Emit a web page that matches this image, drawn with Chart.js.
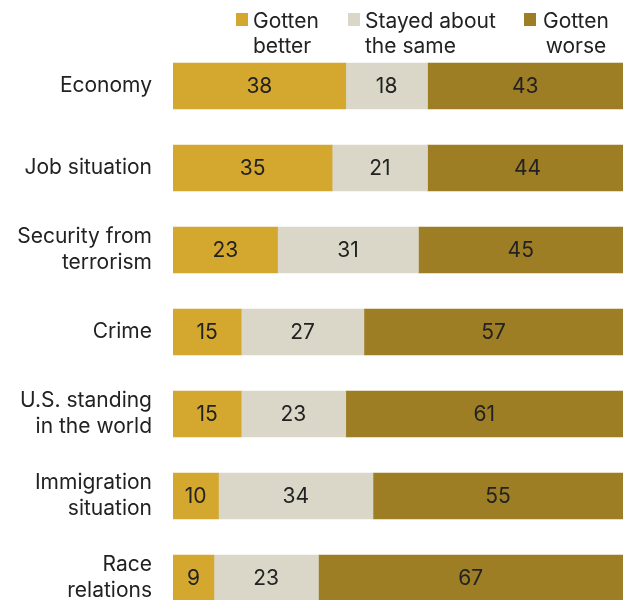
<!DOCTYPE html>
<html lang="en">
<head>
<meta charset="UTF-8" />
<title>Views of change</title>
<script src="https://cdn.jsdelivr.net/npm/chart.js"></script>
<style>
  body { margin: 0; overflow: hidden; background: #fff; font-family: "Inter", sans-serif; }
  #wrap { position: relative; width: 623px; height: 600px; overflow: hidden; }
  #grafica { position: absolute; left: 0; top: 0; }
  .leg { position: absolute; top: 8px; font-size: 21px; line-height: 25px; color: #222; }
  .leg .sq { position: absolute; left: -17px; top: 5px; width: 12px; height: 13px; }
</style>
</head>
<body>
<div id="wrap">
  <canvas id="grafica" width="623" height="620"></canvas>
  <div class="leg" style="left:253px"><span class="sq" style="background:#D4A82F"></span>Gotten<br>better</div>
  <div class="leg" style="left:365px"><span class="sq" style="background:#DAD7C8"></span>Stayed about<br>the same</div>
  <div class="leg" style="left:543px; text-align:center"><span class="sq" style="background:#9E7E24; left:-19px"></span>Gotten<br>worse</div>
</div>
<script>
  const categorias = [
    "Economy",
    "Job situation",
    ["Security from", "terrorism"],
    "Crime",
    ["U.S. standing", "in the world"],
    ["Immigration", "situation"],
    ["Race", "relations"]
  ];
  const mejor = [38, 35, 23, 15, 15, 10, 9];
  const igual = [18, 21, 31, 27, 23, 34, 23];
  const peor = [43, 44, 45, 57, 61, 55, 67];

  const colores = ["#D4A82F", "#DAD7C8", "#9E7E24"];
  const fuente = "Inter";

  // etiquetas con el valor dentro de cada barra
  const valoresPlugin = {
    id: "valores",
    afterDatasetsDraw(chart) {
      const ctx = chart.ctx;
      ctx.save();
      ctx.font = "21px " + fuente;
      ctx.fillStyle = "#222";
      ctx.textAlign = "center";
      ctx.textBaseline = "middle";
      chart.data.datasets.forEach((ds, i) => {
        chart.getDatasetMeta(i).data.forEach((bar, j) => {
          const x = (bar.x + bar.base) / 2;
          ctx.fillText(ds.data[j], x, bar.y + 1);
        });
      });
      ctx.restore();
    }
  };

  new Chart(document.getElementById("grafica"), {
    type: "bar",
    data: {
      labels: categorias,
      datasets: [
        { label: "Gotten better", data: mejor, backgroundColor: colores[0] },
        { label: "Stayed about the same", data: igual, backgroundColor: colores[1] },
        { label: "Gotten worse", data: peor, backgroundColor: colores[2] }
      ]
    },
    options: {
      indexAxis: "y",
      responsive: false,
      animation: false,
      layout: { padding: { top: 45, bottom: 1, left: 0, right: 0 } },
      datasets: { bar: { barThickness: 46, borderWidth: 0 } },
      plugins: { legend: { display: false }, tooltip: { enabled: false } },
      scales: {
        x: { stacked: true, display: false, min: 0, max: 99 },
        y: {
          stacked: true,
          grid: { display: false, drawTicks: false },
          border: { display: false },
          ticks: { color: "#222", padding: 21, font: { family: fuente, size: 21, lineHeight: 1.25 } },
          afterFit(scale) {
            scale.width = 173;
            scale.paddingTop = 0;
            scale.paddingBottom = 0;
          }
        }
      }
    },
    plugins: [valoresPlugin]
  });
</script>
</body>
</html>
